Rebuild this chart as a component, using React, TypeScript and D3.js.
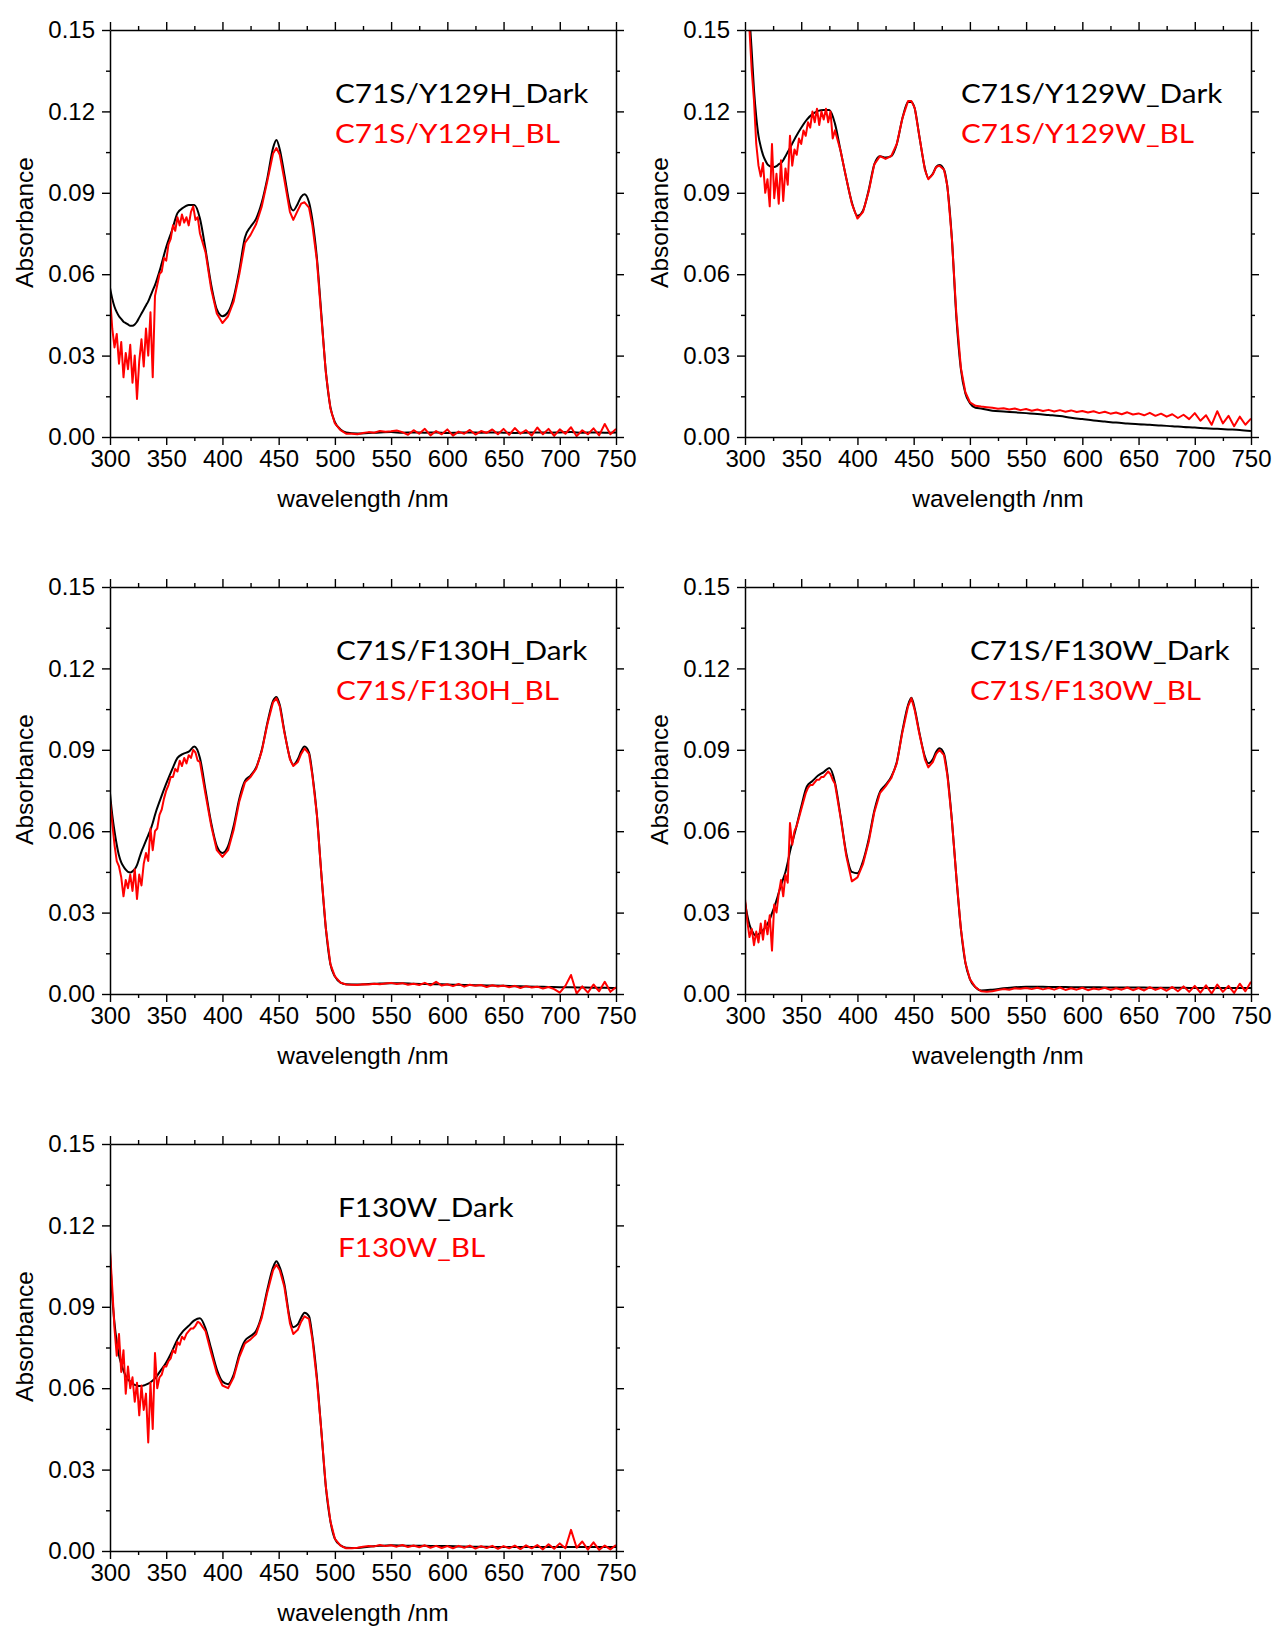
import React, { useEffect, useRef } from "react";
import * as d3 from "d3";

// wavelength grid (nm) of the Dark spectra
const darkWavelengths = [
  300, 302, 304, 306, 308, 310, 312, 314, 316, 318, 320, 322, 324, 326, 328, 330, 332, 334, 336, 338, 340,
  345, 350, 355, 360, 365, 370, 375, 380, 385, 390, 395, 400, 405, 410, 415, 420, 425, 430, 435, 440,
  445, 448, 451, 455, 460, 463, 467, 470, 473, 477, 480, 484, 488, 492, 496, 500, 505, 510,
  520, 530, 540, 550, 560, 570, 580, 590, 600, 610, 620, 630, 640, 650, 660, 670, 680, 690, 700, 710, 720, 730, 740, 750,
];

// wavelength grid (nm) of the BL spectra (noisier, read more densely)
const blWavelengths = [
  300, 302, 304, 306, 308, 310, 312, 314, 316, 318, 320, 322, 324, 326, 328, 330, 332, 334, 336, 338, 340,
  342, 344, 346, 348, 350, 352, 354, 356, 358, 360, 362, 364, 366, 368, 370, 372, 374, 376, 378, 380,
  385, 390, 395, 400, 405, 410, 415, 420, 425, 430, 435, 440,
  445, 448, 451, 455, 460, 463, 467, 470, 473, 477, 480, 484, 488, 492, 496, 500, 505, 510,
  515, 520, 525, 530, 535, 540, 545, 550, 555, 560, 565, 570, 575, 580, 585, 590, 595, 600,
  605, 610, 615, 620, 625, 630, 635, 640, 645, 650, 655, 660, 665, 670, 675, 680,
  685, 690, 695, 700, 705, 710, 715, 720, 725, 730, 735, 740, 745, 750,
];

const y129hDark = [
  0.055, 0.051, 0.048, 0.046, 0.0445, 0.0435, 0.0425, 0.042, 0.0415, 0.041, 0.041, 0.0415, 0.0425, 0.044, 0.0455, 0.047, 0.0485, 0.05, 0.052, 0.054, 0.056,
  0.0625, 0.07, 0.076, 0.0825, 0.0845, 0.0855, 0.0855, 0.0805, 0.069, 0.056, 0.047, 0.0445, 0.046, 0.0515, 0.0615, 0.0735, 0.0775, 0.0805, 0.0865, 0.0955,
  0.1065, 0.1095, 0.106, 0.097, 0.0855, 0.0835, 0.086, 0.0885, 0.0895, 0.0865, 0.08, 0.066, 0.045, 0.024, 0.011, 0.0055, 0.0028, 0.0017,
  0.0013, 0.0015, 0.0017, 0.0018, 0.0016, 0.0017, 0.0016, 0.0017, 0.0015, 0.0016, 0.0017, 0.0016, 0.0017, 0.0016, 0.0015, 0.0016, 0.0017, 0.0016, 0.0017, 0.0018, 0.0016, 0.0017, 0.0016, 0.0017,
];
const y129hBL = [
  0.052, 0.04, 0.033, 0.038, 0.027, 0.035, 0.022, 0.031, 0.025, 0.034, 0.02, 0.03, 0.014, 0.028, 0.036, 0.026, 0.04, 0.03, 0.046, 0.022, 0.052,
  0.056, 0.06, 0.061, 0.066, 0.065, 0.071, 0.073, 0.078, 0.076, 0.081, 0.078, 0.082, 0.079, 0.081, 0.078, 0.083, 0.085, 0.08, 0.081, 0.075,
  0.068, 0.0545, 0.0455, 0.042, 0.0445, 0.05, 0.06, 0.0715, 0.0745, 0.0785, 0.085, 0.0945,
  0.1045, 0.1065, 0.104, 0.095, 0.083, 0.08, 0.0835, 0.086, 0.0865, 0.0845, 0.078, 0.065, 0.044, 0.0235, 0.0105, 0.005, 0.0025, 0.0012,
  0.0012, 0.001, 0.0015, 0.0018, 0.0016, 0.0022, 0.0019, 0.0021, 0.0024, 0.0018, 0.0008, 0.0025, 0.0012, 0.003, 0.0006, 0.0022, 0.001, 0.0028,
  0.0005, 0.002, 0.0012, 0.0026, 0.0009, 0.0022, 0.0015, 0.0028, 0.001, 0.003, 0.0008, 0.0033, 0.0012, 0.0025, 0.0005, 0.0035,
  0.001, 0.003, 0.0004, 0.0028, 0.0012, 0.0036, 0.0003, 0.0025, 0.001, 0.0032, 0.0006, 0.0048, 0.001, 0.003,
];

const y129wDark = [
  0.175, 0.165, 0.155, 0.142, 0.128, 0.118, 0.111, 0.107, 0.104, 0.102, 0.1005, 0.0998, 0.0995, 0.0995, 0.0998, 0.1005, 0.101, 0.102, 0.1035, 0.105, 0.1065,
  0.1105, 0.114, 0.117, 0.119, 0.1202, 0.1205, 0.1205, 0.1155, 0.1055, 0.0955, 0.0865, 0.0815, 0.0835, 0.091, 0.1005, 0.1035, 0.103, 0.1035, 0.108, 0.1175,
  0.1235, 0.1235, 0.121, 0.111, 0.099, 0.0955, 0.097, 0.0995, 0.1002, 0.0985, 0.092, 0.073, 0.044, 0.025, 0.016, 0.0125, 0.0108, 0.0105,
  0.0097, 0.0094, 0.0091, 0.0088, 0.0085, 0.0081, 0.0077, 0.0071, 0.0066, 0.0061, 0.0057, 0.0053, 0.005, 0.0047, 0.0045, 0.0042, 0.004, 0.0037, 0.0035, 0.0032, 0.003, 0.0028, 0.0026, 0.0022,
];
const y129wBL = [
  0.178, 0.163, 0.15, 0.135, 0.124, 0.108, 0.1, 0.096, 0.101, 0.09, 0.095, 0.085, 0.108, 0.088, 0.097, 0.086, 0.102, 0.087, 0.099, 0.093, 0.111,
  0.1, 0.106, 0.104, 0.11, 0.108, 0.113, 0.111, 0.116, 0.114, 0.12, 0.116, 0.121, 0.115, 0.12, 0.117, 0.121, 0.116, 0.12, 0.11, 0.113,
  0.1055, 0.0955, 0.086, 0.0805, 0.083, 0.0905, 0.1005, 0.1035, 0.1025, 0.1035, 0.108, 0.1175,
  0.1238, 0.1238, 0.1212, 0.111, 0.0985, 0.095, 0.0968, 0.0995, 0.1, 0.0985, 0.0925, 0.073, 0.045, 0.0255, 0.0165, 0.0128, 0.0115, 0.0112,
  0.011, 0.0108, 0.0104, 0.0106, 0.0101, 0.0105, 0.0099, 0.0103, 0.0097, 0.0101, 0.0096, 0.01, 0.0094, 0.0099, 0.0093, 0.0098, 0.0092, 0.0096,
  0.009, 0.0095, 0.0088, 0.0093, 0.0086, 0.009, 0.0084, 0.0091, 0.0083, 0.0087, 0.008, 0.0089, 0.0078, 0.0086, 0.0075, 0.0084,
  0.007, 0.0082, 0.0066, 0.0088, 0.006, 0.008, 0.0045, 0.0095, 0.005, 0.0078, 0.004, 0.0075, 0.0045, 0.0068,
];

const f130hDark = [
  0.074, 0.066, 0.06, 0.055, 0.051, 0.0485, 0.047, 0.0458, 0.045, 0.0448, 0.0452, 0.046, 0.0475, 0.05, 0.0525, 0.0545, 0.0565, 0.0585, 0.0605, 0.063, 0.066,
  0.072, 0.0775, 0.0825, 0.087, 0.0885, 0.0893, 0.0912, 0.087, 0.075, 0.063, 0.0545, 0.052, 0.0545, 0.062, 0.072, 0.0785, 0.0805, 0.0835, 0.09, 0.1,
  0.108, 0.1095, 0.1065, 0.097, 0.087, 0.0845, 0.0865, 0.0895, 0.0912, 0.089, 0.081, 0.066, 0.044, 0.024, 0.011, 0.0065, 0.0042, 0.0036,
  0.0035, 0.0037, 0.0039, 0.004, 0.004, 0.0038, 0.0037, 0.0036, 0.0035, 0.0034, 0.0033, 0.0032, 0.0031, 0.003, 0.0029, 0.0028, 0.0027, 0.0026, 0.0025, 0.0025, 0.0024, 0.0023, 0.0023, 0.0022,
];
const f130hBL = [
  0.071, 0.063, 0.055, 0.049, 0.047, 0.043, 0.036, 0.042, 0.039, 0.044, 0.038, 0.046, 0.035, 0.044, 0.04, 0.048, 0.052, 0.049, 0.061, 0.053, 0.06,
  0.061, 0.066, 0.068, 0.072, 0.075, 0.077, 0.08, 0.08, 0.083, 0.082, 0.086, 0.084, 0.087, 0.085, 0.088, 0.087, 0.09, 0.089, 0.086, 0.0855,
  0.0735, 0.062, 0.053, 0.0505, 0.053, 0.0605, 0.071, 0.078, 0.08, 0.083, 0.0895, 0.0995,
  0.1075, 0.109, 0.106, 0.0965, 0.0865, 0.084, 0.0855, 0.0885, 0.0905, 0.0885, 0.0805, 0.066, 0.044, 0.024, 0.011, 0.0065, 0.0042, 0.0035,
  0.0034, 0.0033, 0.0036, 0.0035, 0.0038, 0.0036, 0.0039, 0.0041, 0.0037, 0.004, 0.0034, 0.0038, 0.0033, 0.0041, 0.0032, 0.0045, 0.0031, 0.0036,
  0.0029, 0.0037, 0.0027, 0.0034, 0.003, 0.0033, 0.0026, 0.0032, 0.0028, 0.0031, 0.0025, 0.003, 0.0022, 0.0029, 0.0024, 0.0027,
  0.002, 0.0026, 0.0018, 0.0005, 0.003, 0.007, 0.0002, 0.0028, 0.0005, 0.0035, 0.001, 0.0045, 0.0008, 0.0025,
];

const f130wDark = [
  0.034, 0.029, 0.0255, 0.0235, 0.022, 0.0215, 0.022, 0.0227, 0.0235, 0.0245, 0.0258, 0.0275, 0.0298, 0.032, 0.0345, 0.0373, 0.04, 0.0425, 0.045, 0.0485, 0.0525,
  0.0605, 0.069, 0.0765, 0.0785, 0.0805, 0.0818, 0.0833, 0.078, 0.0655, 0.052, 0.045, 0.0445, 0.049, 0.057, 0.0675, 0.0745, 0.0771, 0.08, 0.0855, 0.097,
  0.1065, 0.1092, 0.105, 0.0965, 0.0875, 0.085, 0.0865, 0.0893, 0.0906, 0.0885, 0.081, 0.064, 0.043, 0.024, 0.0115, 0.0055, 0.0025, 0.0013,
  0.0016, 0.0021, 0.0025, 0.0027, 0.0027, 0.0026, 0.0026, 0.0025, 0.0025, 0.0025, 0.0024, 0.0024, 0.0024, 0.0024, 0.0023, 0.0023, 0.0023, 0.0023, 0.0022, 0.0022, 0.0022, 0.0022, 0.0022, 0.0022,
];
const f130wBL = [
  0.035, 0.027, 0.021, 0.024, 0.018, 0.023, 0.019, 0.026, 0.02, 0.027, 0.022, 0.029, 0.016, 0.033, 0.03, 0.037, 0.042, 0.036, 0.044, 0.041, 0.063,
  0.055, 0.06, 0.062, 0.065, 0.068, 0.071, 0.074, 0.076, 0.077, 0.077, 0.078, 0.079, 0.079, 0.08, 0.08, 0.081, 0.082, 0.081, 0.079, 0.0775,
  0.065, 0.051, 0.0415, 0.043, 0.048, 0.056, 0.067, 0.074, 0.0765, 0.0795, 0.085, 0.0965,
  0.106, 0.109, 0.1045, 0.096, 0.0865, 0.0835, 0.0855, 0.0885, 0.09, 0.088, 0.0805, 0.064, 0.043, 0.024, 0.0115, 0.0055, 0.0025, 0.001,
  0.0008, 0.001, 0.0015, 0.0018, 0.0016, 0.0021, 0.0019, 0.0022, 0.0018, 0.0023, 0.0017, 0.0022, 0.0016, 0.0024, 0.0015, 0.0021, 0.0016, 0.0023,
  0.0014, 0.002, 0.0017, 0.0023, 0.0015, 0.0021, 0.0016, 0.0024, 0.0014, 0.0022, 0.0013, 0.0025, 0.0015, 0.0023, 0.0012, 0.0026,
  0.001, 0.0028, 0.0008, 0.003, 0.0005, 0.0032, 0.0002, 0.0035, 0.0008, 0.003, 0.0004, 0.0038, 0.001, 0.0045,
];

const f130wSingleDark = [
  0.11, 0.094, 0.084, 0.077, 0.072, 0.069, 0.0665, 0.0645, 0.0632, 0.0625, 0.0618, 0.0612, 0.061, 0.0608, 0.0608, 0.061, 0.0613, 0.0617, 0.0622, 0.0628, 0.0636,
  0.0665, 0.0695, 0.0735, 0.078, 0.081, 0.083, 0.085, 0.0858, 0.082, 0.0745, 0.067, 0.0625, 0.0615, 0.065, 0.0725, 0.0775, 0.0792, 0.0812, 0.087, 0.0965,
  0.1045, 0.1068, 0.1045, 0.0985, 0.0855, 0.0825, 0.0835, 0.086, 0.0878, 0.0865, 0.079, 0.064, 0.044, 0.0235, 0.011, 0.0045, 0.0021, 0.0012,
  0.0011, 0.0016, 0.0019, 0.0021, 0.002, 0.0019, 0.0019, 0.0018, 0.0018, 0.0017, 0.0016, 0.0016, 0.0015, 0.0015, 0.0015, 0.0015, 0.0015, 0.0015, 0.0015, 0.0015, 0.0015, 0.0015, 0.0015, 0.0015,
];
const f130wSingleBL = [
  0.111, 0.097, 0.082, 0.072, 0.08, 0.066, 0.074, 0.058, 0.068, 0.06, 0.064, 0.055, 0.062, 0.05, 0.061, 0.052, 0.058, 0.04, 0.062, 0.045, 0.073,
  0.06, 0.064, 0.065, 0.068, 0.068, 0.07, 0.071, 0.074, 0.073, 0.077, 0.076, 0.079, 0.078, 0.08, 0.081, 0.082, 0.082, 0.083, 0.0845, 0.084,
  0.081, 0.073, 0.0655, 0.061, 0.06, 0.064, 0.0715, 0.0765, 0.078, 0.08, 0.086, 0.0955,
  0.1035, 0.1055, 0.1035, 0.0975, 0.084, 0.08, 0.0815, 0.0845, 0.0865, 0.0855, 0.078, 0.063, 0.044, 0.0235, 0.011, 0.0045, 0.002, 0.001,
  0.001, 0.0012, 0.0016, 0.0018, 0.0017, 0.0022, 0.0018, 0.0021, 0.0016, 0.0022, 0.0015, 0.002, 0.0014, 0.0021, 0.0012, 0.0019, 0.0011, 0.0018,
  0.001, 0.0019, 0.0012, 0.002, 0.0009, 0.0018, 0.0011, 0.0019, 0.0008, 0.0018, 0.001, 0.002, 0.0007, 0.0021, 0.001, 0.0022,
  0.0006, 0.0025, 0.0008, 0.0028, 0.001, 0.0078, 0.0012, 0.0035, 0.0005, 0.0032, 0.0004, 0.002, 0.0006, 0.0022,
];

const xTicks = [300, 350, 400, 450, 500, 550, 600, 650, 700, 750];
const xMinor = [325, 375, 425, 475, 525, 575, 625, 675, 725];
const yTicks = [0, 0.03, 0.06, 0.09, 0.12, 0.15];
const yMinor = [0.015, 0.045, 0.075, 0.105, 0.135];

const panels = [
  { dark: y129hDark, bl: y129hBL, names: ["C71S/Y129H_Dark", "C71S/Y129H_BL"], left: 110, top: 30, legendX: 225 },
  { dark: y129wDark, bl: y129wBL, names: ["C71S/Y129W_Dark", "C71S/Y129W_BL"], left: 745, top: 30, legendX: 216 },
  { dark: f130hDark, bl: f130hBL, names: ["C71S/F130H_Dark", "C71S/F130H_BL"], left: 110, top: 587, legendX: 226 },
  { dark: f130wDark, bl: f130wBL, names: ["C71S/F130W_Dark", "C71S/F130W_BL"], left: 745, top: 587, legendX: 225 },
  { dark: f130wSingleDark, bl: f130wSingleBL, names: ["F130W_Dark", "F130W_BL"], left: 110, top: 1144, legendX: 228 },
];

const W = 506;
const H = 407;
const axisFont = "'Liberation Sans', Arial, sans-serif";

function Panel({ p, i }: { p: any; i: number }) {
  const ref = useRef<SVGGElement>(null);

  useEffect(() => {
    const g = d3.select(ref.current);
    g.selectAll("*").remove();

    const x = d3.scaleLinear().domain([300, 750]).range([0, W]);
    const y = d3.scaleLinear().domain([0, 0.15]).range([H, 0]);

    g.append("clipPath").attr("id", `clip${i}`).append("rect").attr("width", W).attr("height", H);

    const darkLine = d3.line<number>().x((d, k) => x(darkWavelengths[k])).y((d) => y(d)).curve(d3.curveMonotoneX);
    const blLine = d3.line<number>().x((d, k) => x(blWavelengths[k])).y((d) => y(d));
    const lines = g.append("g").attr("clip-path", `url(#clip${i})`);
    lines.append("path").attr("d", darkLine(p.dark)).attr("fill", "none").attr("stroke", "#000")
      .attr("stroke-width", 2).attr("stroke-linejoin", "round");
    lines.append("path").attr("d", blLine(p.bl)).attr("fill", "none").attr("stroke", "#ff0000")
      .attr("stroke-width", 2).attr("stroke-linejoin", "round");

    const styleAxis = (s: any) => {
      s.select(".domain").attr("stroke-width", 1.5);
      s.selectAll(".tick line").attr("stroke-width", 1.4);
      s.selectAll("text").attr("font-family", axisFont).attr("font-size", 24).attr("fill", "#000");
    };
    const noDomain = (s: any) => s.select(".domain").remove();

    // bottom / top
    g.append("g").attr("transform", `translate(0,${H})`)
      .call(d3.axisBottom(x).tickValues(xTicks).tickSize(8).tickSizeOuter(0).tickPadding(5).tickFormat(d3.format("d")))
      .call(styleAxis);
    g.append("g").attr("transform", `translate(0,${H})`)
      .call(d3.axisBottom(x).tickValues(xMinor).tickSize(4).tickFormat(() => ""))
      .call(noDomain).call(styleAxis);
    g.append("g")
      .call(d3.axisTop(x).tickValues(xTicks).tickSize(8).tickSizeOuter(0).tickFormat(() => ""))
      .call(styleAxis);
    g.append("g")
      .call(d3.axisTop(x).tickValues(xMinor).tickSize(4).tickFormat(() => ""))
      .call(noDomain).call(styleAxis);

    // left / right
    g.append("g")
      .call(d3.axisLeft(y).tickValues(yTicks).tickSize(8).tickSizeOuter(0).tickPadding(7).tickFormat(d3.format(".2f")))
      .call(styleAxis);
    g.append("g")
      .call(d3.axisLeft(y).tickValues(yMinor).tickSize(4).tickFormat(() => ""))
      .call(noDomain).call(styleAxis);
    g.append("g").attr("transform", `translate(${W},0)`)
      .call(d3.axisRight(y).tickValues(yTicks).tickSize(8).tickSizeOuter(0).tickFormat(() => ""))
      .call(styleAxis);
    g.append("g").attr("transform", `translate(${W},0)`)
      .call(d3.axisRight(y).tickValues(yMinor).tickSize(4).tickFormat(() => ""))
      .call(noDomain).call(styleAxis);

    // axis titles
    g.append("text").attr("x", W / 2).attr("y", H + 70).attr("text-anchor", "middle")
      .attr("font-family", axisFont).attr("font-size", 24.5).text("wavelength /nm");
    g.append("text").attr("transform", `translate(-77,${H / 2 - 11}) rotate(-90)`).attr("text-anchor", "middle")
      .attr("font-family", axisFont).attr("font-size", 24.5).text("Absorbance");

    // legend
    const colors = ["#000", "#ff0000"];
    p.names.forEach((name: string, k: number) => {
      g.append("text").attr("transform", `translate(${p.legendX},${73 + k * 40}) scale(1.1,1)`)
        .attr("font-family", "Lato, 'Open Sans', sans-serif").attr("font-size", 27)
        .attr("fill", colors[k]).text(name);
    });
  }, [p, i]);

  return <g ref={ref} transform={`translate(${p.left},${p.top})`} />;
}

export default function App() {
  return (
    <svg width={1273} height={1629} style={{ position: "absolute", left: 0, top: 0, background: "#fff" }}>
      {panels.map((p, i) => (
        <Panel key={i} p={p} i={i} />
      ))}
    </svg>
  );
}
